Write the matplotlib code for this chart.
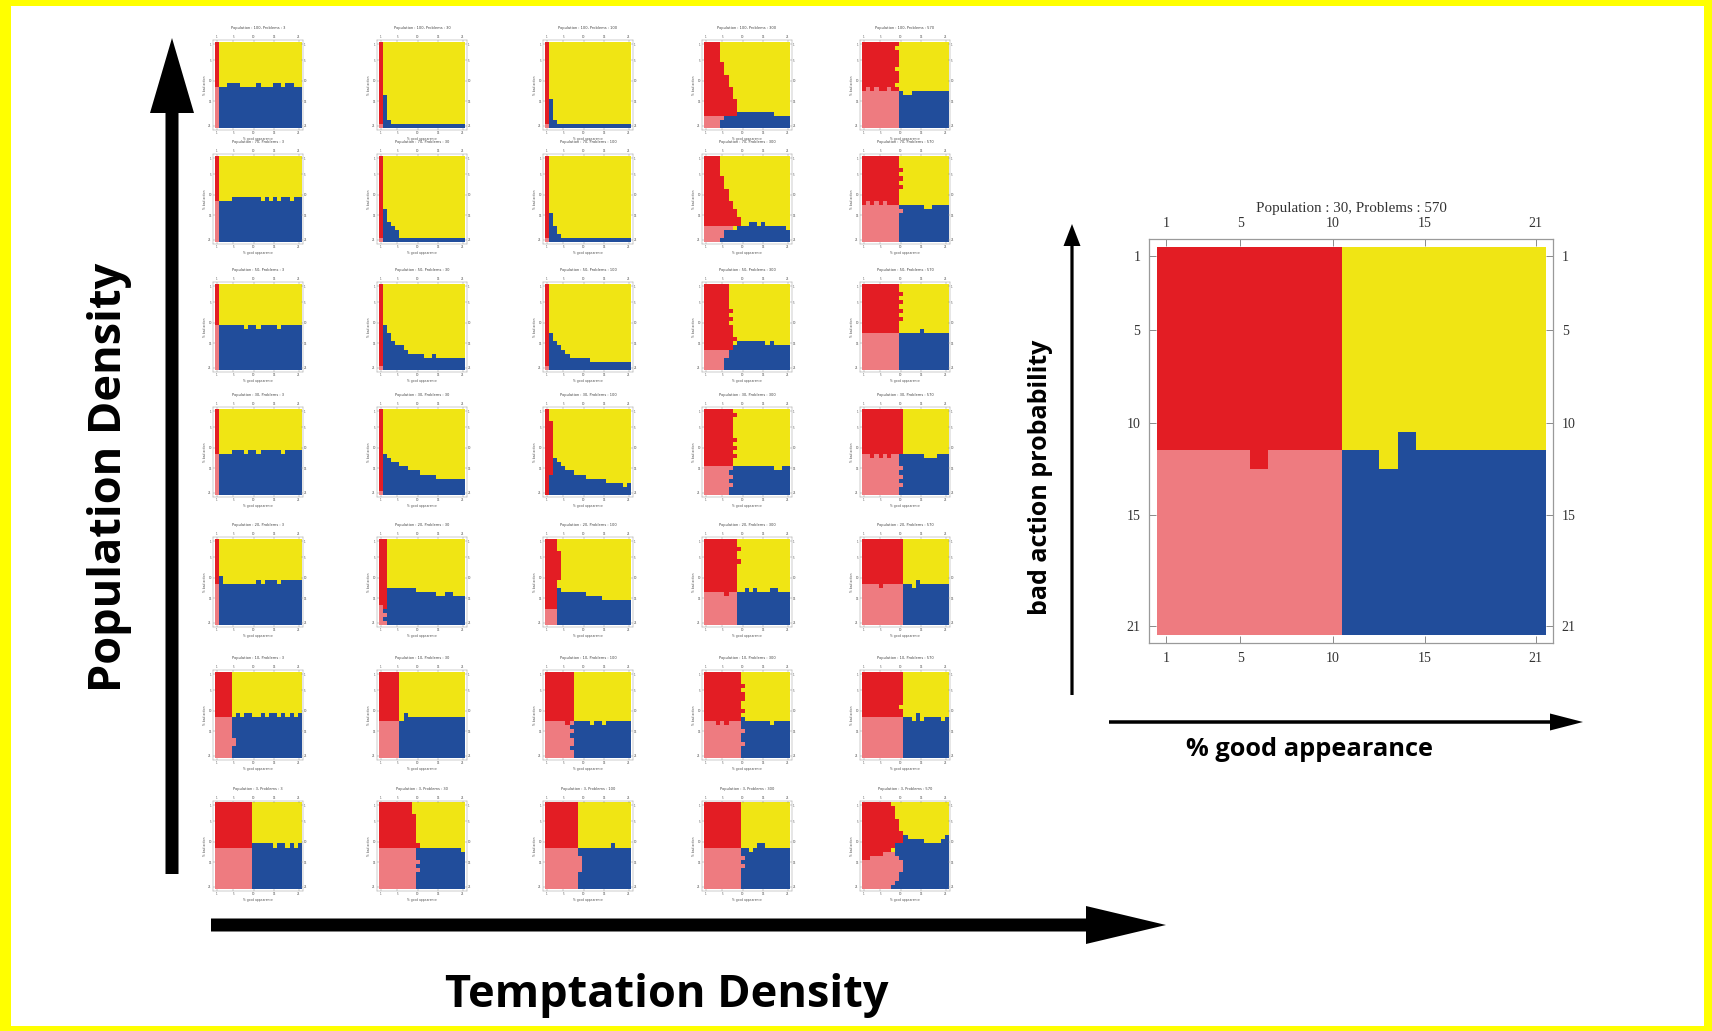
import matplotlib
matplotlib.use("Agg")
import matplotlib.pyplot as plt
import numpy as np
from matplotlib.colors import ListedColormap
from matplotlib.patches import FancyArrow, Rectangle

W, H, DPI = 1712, 1031, 100

# ---------------- data ----------------
# cell classes: 0 red, 1 pink, 2 yellow, 3 blue
# each 21x21 map is encoded by three base-36 strings (0-9, a=10 ... l=21):
#   lw: width of the left (red/pink) block in every row (top -> bottom)
#   pk: first pink row of every column of the left block
#   bl: first blue row of every column of the right (yellow/blue) block
populations = [100, 70, 50, 30, 20, 10, 3]
problems = [3, 30, 100, 300, 570]
tick_values = [1, 5, 10, 15, 21]

row0_lw = ["111111111111111111111", "111111111111111111111", "111111111111111111111",
           "444445556667778888544", "989999899989999999999"]
row0_pk = ["bllllllllllllllllllll", "klllllllllllllllllll", "klllllllllllllllllll",
           "iiiiillllllllllllllll", "cbcbccbccllllllllllll"]
row0_bl = ["lbbaaabbbbabbbaabaabb", "ldjkkkkkkkkkkkkkkkkkk", "lejkkkkkkkkkkkkkkkkkk",
           "lllliiiihhhhhhhhhiiii", "llllllllccddccccccccc"]

row1_lw = ["111111111111111111111", "111111111111111111111", "111111111111111111111",
           "444445556667788997554", "999a9a9a99999a9999999"]
row1_pk = ["bllllllllllllllllllll", "klllllllllllllllllll", "klllllllllllllllllll",
           "hhhhhhhllllllllllllll", "cbcbcbccccllllllllll"]
row1_bl = ["lbbbaaaaaaabababaabaa", "ldghikkkkkkkkkkkkkkkk", "lehjkkkkkkkkkkkkkkkkk",
           "lllliiiihhhgghghhhhhi", "lllllllllccccccddcccc"]

row2_lw = ["111111111111111111111", "111111111111111111111", "111111111111111111111",
           "666666767677787766555", "99a9a9a9a999999999999"]
row2_pk = ["allllllllllllllllllll", "klllllllllllllllllll", "klllllllllllllllllll",
           "ggggggglllllllllllll", "ccccccccccllllllllll"]
row2_bl = ["laaaaaabaabaaaabaaaaa", "laceffghhhhiihiiiiiii", "lcefghiiiiijjjjjjjjjj",
           "lllllfffeeeeeeefeffff", "lllllllllcccccbcccccc"]

row3_lw = ["111111111111111111111", "111111111111111111111", "111222222222222211111",
           "787777787878777676766", "aaaaaaaaaaa999a9a9a99"]
row3_pk = ["bllllllllllllllllllll", "klllllllllllllllllll", "lllllllllllllllllllll",
           "eeeeeeeelllllllllllll", "bbcbcbcbbbllllllllll"]
row3_bl = ["lbbbaaabaabaaaaabaaaa", "lbcddeefffgggghhhhhhh", "lgcdeffggghhhhhiiiiji",
           "lllllleeeeeeeeeeeffee", "lllllllllbbbbbbcccbbb"]

row4_lw = ["111111111111111111111", "222222222222222221212", "333444444433333333333",
           "889889888888888888888", "aaaaaaaaaaaaaaaaaaaaa"]
row4_pk = ["bllllllllllllllllllll", "ghllllllllllllllllll", "hhhllllllllllllllllll",
           "dddddedddllllllllllll", "bbbbcbbbbbllllllllll"]
row4_bl = ["l9bbbbbbbbabaaabaaaaa", "lfcccccccdddddeeddeee", "lllcddddddeeeefffffff",
           "llllllllddcdcdddccddd", "llllllllllbbcabbbbbbb"]

row5_lw = ["444444444444444455444", "555555555555555555555", "777777777777767677677",
           "999a9aa99a9999a99a999", "aaaaaaaa9aaaaaaaaaaaa"]
row5_pk = ["bbbbgllllllllllllllll", "cccccllllllllllllllll", "cccccdclllllllllllll",
           "cccdcdccccllllllllllll", "bbbbbbbbbbllllllllll"]
row5_bl = ["llllbabaabbabaabababa", "lllllcabbbbbbbbbbbbbb", "llllllcccccdccdcccccc",
           "lllllllllbccccccdcccc", "lllllllllbbbcacbbbbcb"]

row6_lw = ["999999999999999999999", "8889999999a999a9a9999", "888888888888899998888",
           "9999999999999a9a99999", "7888999aaa8789aaa9987"]
row6_pk = ["bbbbbbbbblllllllllll", "bbbbbbbbbbllllllllll", "bbbbbbbbblllllllllll",
           "bbbbbbbbbbllllllllll", "eedddcccccllllllllll"]
row6_bl = ["lllllllllaaaaabaababa", "llllllllbbbbbbbbbbbbc", "llllllllbbbbbbbbabbbb",
           "lllllllllbbcbaabbbbbb", "lllllllca989999aaaa98"]

big_lw = "aaaaaaaaaaaaaaaaaaaaa"
big_pk = "bbbbbcbbbblllllllllll"
big_bl = "llllllllllbbcabbbbbbb"
big_title = "Population : 30, Problems : 570"

# ---------------- helpers ----------------
RED, PINK, YELLOW, BLUE = "#e31d24", "#ee7b80", "#f0e514", "#214d9b"
cmap = ListedColormap([RED, PINK, YELLOW, BLUE])


def decode(s):
    vals = [int(ch, 36) for ch in s]
    return (vals + [vals[-1]] * 21)[:21]


def build(lw, pk, bl):
    lw, pk, bl = decode(lw), decode(pk), decode(bl)
    g = np.zeros((21, 21), int)
    for r in range(21):
        for c in range(21):
            if c < lw[r]:
                g[r, c] = 0 if r < pk[c] else 1
            else:
                g[r, c] = 2 if r < bl[c] else 3
    return g


fig = plt.figure(figsize=(W / DPI, H / DPI), dpi=DPI)
fig.patch.set_facecolor("#ffff00")

bg = fig.add_axes([0, 0, 1, 1])
bg.set_xlim(0, W)
bg.set_ylim(H, 0)
bg.axis("off")
bg.add_patch(Rectangle((11, 6), 1693, 1020, facecolor="white", edgecolor="none"))

PAD = 0.45


def draw_map(img_x, img_y, size, grid, title, big=False):
    cell = size / 21
    fx, fy = img_x - PAD * cell, img_y - PAD * cell
    fs = size + 2 * PAD * cell
    ax = fig.add_axes([fx / W, 1 - (fy + fs) / H, fs / W, fs / H])
    ax.imshow(grid, cmap=cmap, vmin=-0.5, vmax=3.5, extent=(0.5, 21.5, 21.5, 0.5),
              interpolation="nearest", aspect="auto")
    ax.set_xlim(0.5 - PAD, 21.5 + PAD)
    ax.set_ylim(21.5 + PAD, 0.5 - PAD)
    ax.set_xticks(tick_values)
    ax.set_yticks(tick_values)
    for sp in ax.spines.values():
        sp.set_color("#9a9a9a")
        sp.set_linewidth(0.9 if big else 0.35)
    if big:
        ax.tick_params(direction="in", length=5, width=0.7, color="#8a8a8a",
                       top=True, right=True, labeltop=True, labelright=True,
                       labelsize=10, labelcolor="#333333", pad=6)
        for lab in ax.get_xticklabels() + ax.get_yticklabels():
            lab.set_fontfamily("Liberation Serif")
        ax.set_title(title, fontsize=10.8, family="Liberation Serif", color="#333333", pad=19)
    else:
        ax.tick_params(direction="in", length=1.2, width=0.3, color="#8a8a8a",
                       top=True, right=True, labeltop=True, labelright=True,
                       labelsize=2, labelcolor="#555555", pad=1)
        ax.set_title(title, fontsize=2.6, color="#444444", pad=4)
        ax.set_xlabel("% good appearance", fontsize=2.2, color="#555555", labelpad=1)
        ax.set_ylabel("% bad action", fontsize=2.2, color="#555555", labelpad=1)
    return ax


col_left = [215, 379, 545, 704, 862]
row_top = [42, 156, 284, 409, 539, 672, 803]
SMALL = 86

all_rows = [(row0_lw, row0_pk, row0_bl), (row1_lw, row1_pk, row1_bl),
            (row2_lw, row2_pk, row2_bl), (row3_lw, row3_pk, row3_bl),
            (row4_lw, row4_pk, row4_bl), (row5_lw, row5_pk, row5_bl),
            (row6_lw, row6_pk, row6_bl)]

for i, (lws, pks, bls) in enumerate(all_rows):
    for j in range(5):
        g = build(lws[j], pks[j], bls[j])
        t = f"Population : {populations[i]}, Problems : {problems[j]}"
        draw_map(col_left[j], row_top[i], SMALL, g, t)

draw_map(1157, 247, 388, build(big_lw, big_pk, big_bl), big_title, big=True)

# ---------------- arrows ----------------
def arrow(x0, y0, x1, y1, width, hw, hl):
    bg.add_patch(FancyArrow(x0, y0, x1 - x0, y1 - y0, width=width, head_width=hw,
                            head_length=hl, length_includes_head=True,
                            color="black", linewidth=0))

arrow(172, 874, 172, 38, 13, 44, 75)
arrow(211, 925, 1166, 925, 13, 38, 80)
arrow(1072, 695, 1072, 224, 3.2, 17, 22)
arrow(1109, 722, 1583, 722, 3.5, 17, 33)

lab = dict(family="Open Sans", weight="bold", color="black", ha="center", va="center")
bg.text(110, 477, "Population Density", rotation=90, fontsize=32.5, **lab)
bg.text(667, 996, "Temptation Density", fontsize=32.5, **lab)
bg.text(1041, 477, "bad action probability", rotation=90, fontsize=18, **lab)
bg.text(1310, 749, "% good appearance", fontsize=18.3, **lab)

fig.savefig("out.png", dpi=DPI, facecolor=fig.get_facecolor())
